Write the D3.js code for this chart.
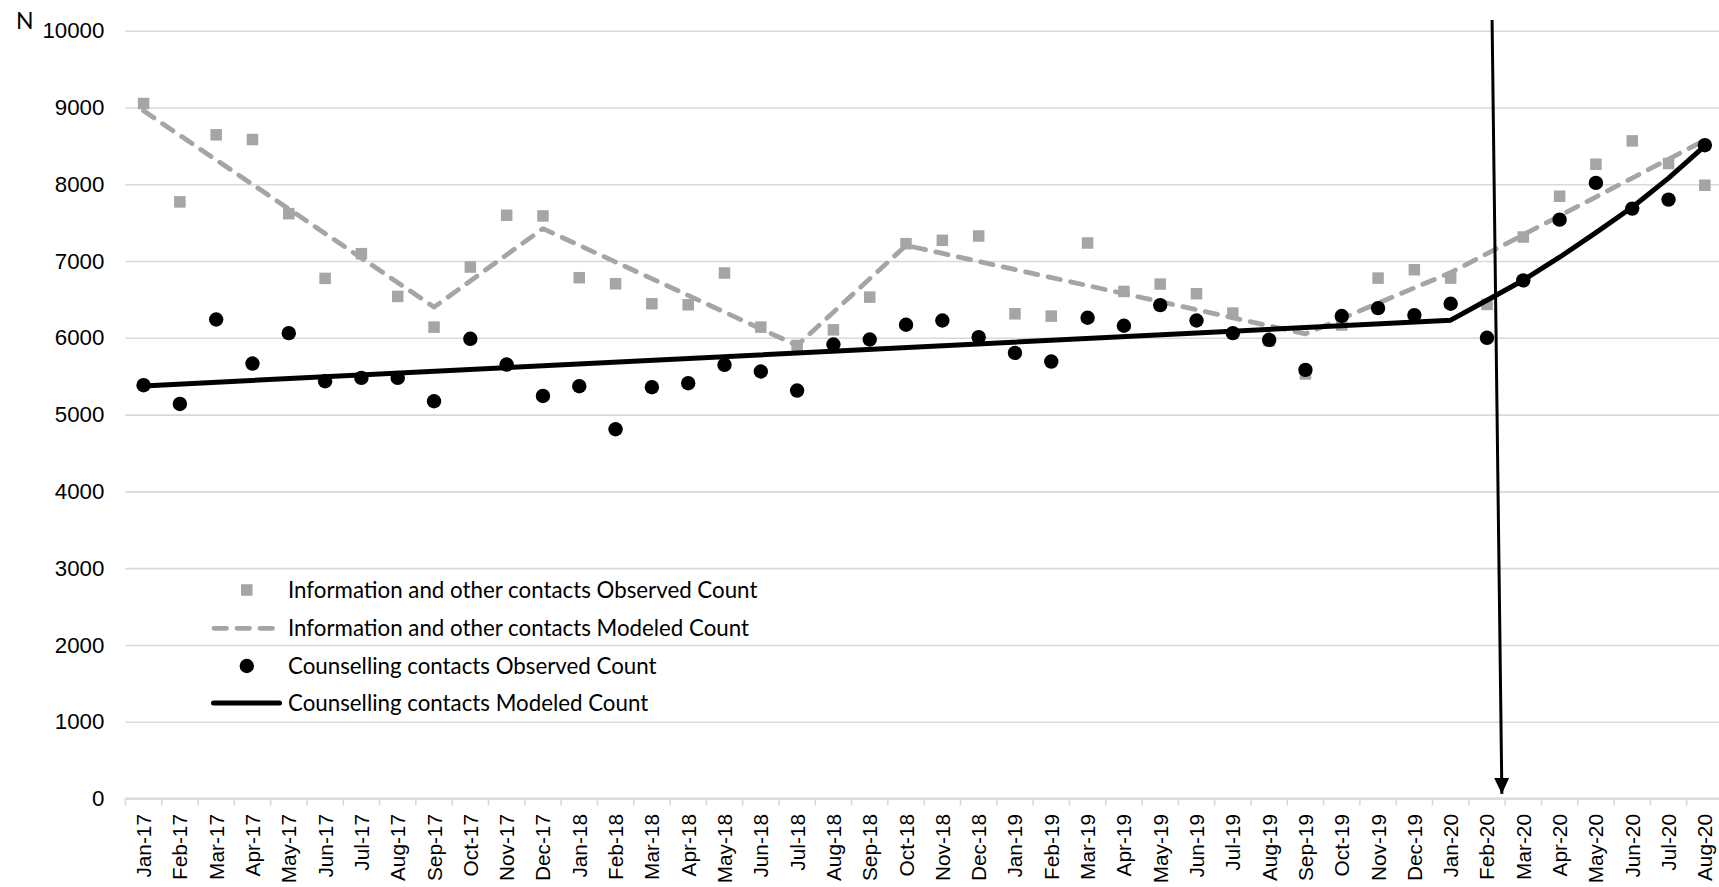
<!DOCTYPE html>
<html>
<head>
<meta charset="utf-8">
<script src="https://cdn.jsdelivr.net/npm/d3@7"></script>
<style>
  html, body { margin: 0; padding: 0; background: #fff; }
  svg { display: block; font-family: Lato, "Open Sans", sans-serif; }
</style>
</head>
<body>
<svg id="chart" width="1719" height="887"></svg>
<script>
// Monthly categories, Jan 2017 – Aug 2020
const months = [
  "Jan-17","Feb-17","Mar-17","Apr-17","May-17","Jun-17","Jul-17","Aug-17","Sep-17","Oct-17","Nov-17","Dec-17",
  "Jan-18","Feb-18","Mar-18","Apr-18","May-18","Jun-18","Jul-18","Aug-18","Sep-18","Oct-18","Nov-18","Dec-18",
  "Jan-19","Feb-19","Mar-19","Apr-19","May-19","Jun-19","Jul-19","Aug-19","Sep-19","Oct-19","Nov-19","Dec-19",
  "Jan-20","Feb-20","Mar-20","Apr-20","May-20","Jun-20","Jul-20","Aug-20"
];

// Information and other contacts – observed monthly count
const infoObserved = [
  9052, 7770, 8644, 8583, 7617, 6774, 7096, 6539, 6139, 6922, 7596, 7587,
  6783, 6704, 6444, 6430, 6844, 6139, 5900, 6104, 6530, 7226, 7270, 7326,
  6313, 6283, 7235, 6604, 6700, 6574, 6322, 5960, 5530, 6167, 6778, 6887,
  6778, 6435, 7313, 7844, 8261, 8565, 8270, 7987
];

// Counselling contacts – observed monthly count
const counselObserved = [
  5383, 5139, 6239, 5665, 6061, 5435, 5478, 5478, 5174, 5987, 5652, 5243,
  5370, 4809, 5357, 5409, 5648, 5561, 5313, 5913, 5978, 6170, 6226, 6009,
  5804, 5691, 6261, 6157, 6426, 6226, 6061, 5974, 5583, 6284, 6387, 6296,
  6444, 6000, 6748, 7539, 8018, 7683, 7800, 8509
];

// Segmented model for information contacts: values at the segment breakpoints
const infoModeledMonths = ["Jan-17","Sep-17","Dec-17","Jul-18","Oct-18","Sep-19","Jan-20","Aug-20"];
const infoModeled       = [8957, 6400, 7422, 5900, 7204, 6052, 6850, 8574];

// Interrupted model for counselling contacts: linear trend, then growth after Jan-20
const counselModeledMonths = ["Jan-17","Jan-20","Feb-20","Mar-20","Apr-20","May-20","Jun-20","Jul-20","Aug-20"];
const counselModeled       = [5374, 6230, 6490, 6750, 7050, 7370, 7700, 8080, 8500];

// Y axis ticks
const yTicks = [0,1000,2000,3000,4000,5000,6000,7000,8000,9000,10000];

// Legend entries
const legendLabels = [
  "Information and other contacts Observed Count",
  "Information and other contacts Modeled Count",
  "Counselling contacts Observed Count",
  "Counselling contacts Modeled Count"
];

// Intervention marker (start of the pandemic period)
const markerMonth = "Feb-20";

// ---------------------------------------------------------------
const svg = d3.select("#chart");
const GRAY = "#a5a5a5", GRID = "#d9d9d9";
const FONT = 22.3;
const XFONT = 20.8;

const x = d3.scaleBand().domain(months).range([125.4, 1723]).padding(0);
const cx = m => x(m) + x.bandwidth() / 2;
const y = d3.scaleLinear().domain([0, 10000]).range([798.5, 30.7]);

const plotLeft = x.range()[0], plotRight = x.range()[1];

// Horizontal gridlines + y tick labels
const yAxis = d3.axisLeft(y)
  .tickValues(yTicks)
  .tickSize(-(plotRight - plotLeft))
  .tickPadding(21)
  .tickFormat(d3.format("d"));
const gy = svg.append("g")
  .attr("transform", `translate(${plotLeft},0)`)
  .call(yAxis);
gy.select(".domain").remove();
gy.selectAll(".tick line").attr("stroke", GRID).attr("stroke-width", 1.6);
gy.selectAll(".tick text")
  .attr("fill", "#000")
  .style("font-size", FONT + "px");

// X axis baseline, band tick marks and rotated month labels
svg.append("line")
  .attr("x1", plotLeft).attr("x2", plotRight)
  .attr("y1", y(0)).attr("y2", y(0))
  .attr("stroke", GRID).attr("stroke-width", 2);

svg.append("g").selectAll("line")
  .data(months.map(m => x(m)).concat([plotRight]))
  .join("line")
  .attr("x1", d => d).attr("x2", d => d)
  .attr("y1", y(0)).attr("y2", y(0) + 7)
  .attr("stroke", GRID).attr("stroke-width", 1.6);

const xAxis = d3.axisBottom(x).tickSize(0).tickPadding(0);
const gx = svg.append("g")
  .attr("transform", `translate(0,${y(0)})`)
  .call(xAxis);
gx.select(".domain").remove();
gx.selectAll(".tick text")
  .attr("transform", "rotate(-90)")
  .attr("x", -15.5)
  .attr("y", 0)
  .attr("dy", "0.36em")
  .attr("text-anchor", "end")
  .attr("fill", "#000")
  .style("font-size", XFONT + "px");

// Axis title
svg.append("text")
  .attr("x", 16).attr("y", 28.5)
  .style("font-size", "23px")
  .attr("fill", "#000")
  .text("N");

// Series: information observed (squares)
const SQ = 11.5;
svg.append("g").selectAll("rect")
  .data(months.map((m, i) => ({ m, v: infoObserved[i] })))
  .join("rect")
  .attr("x", d => cx(d.m) - SQ / 2)
  .attr("y", d => y(d.v) - SQ / 2)
  .attr("width", SQ).attr("height", SQ)
  .attr("fill", GRAY);

// Series: information modeled (dashed)
const line = d3.line().x(d => cx(d.m)).y(d => y(d.v));
svg.append("path")
  .datum(infoModeledMonths.map((m, i) => ({ m, v: infoModeled[i] })))
  .attr("d", line)
  .attr("fill", "none")
  .attr("stroke", GRAY)
  .attr("stroke-width", 4.8)
  .attr("stroke-dasharray", "12.5,10.5")
  .attr("stroke-linecap", "round")
  .attr("stroke-linejoin", "round");

// Series: counselling observed (circles)
svg.append("g").selectAll("circle")
  .data(months.map((m, i) => ({ m, v: counselObserved[i] })))
  .join("circle")
  .attr("cx", d => cx(d.m))
  .attr("cy", d => y(d.v))
  .attr("r", 7.2)
  .attr("fill", "#000");

// Series: counselling modeled (solid)
svg.append("path")
  .datum(counselModeledMonths.map((m, i) => ({ m, v: counselModeled[i] })))
  .attr("d", line)
  .attr("fill", "none")
  .attr("stroke", "#000")
  .attr("stroke-width", 5)
  .attr("stroke-linejoin", "round");

// Legend
const legend = svg.append("g");
const rowY = [590, 628.3, 666, 703];
const mx = 246.8;
legend.append("rect")
  .attr("x", mx - SQ / 2).attr("y", rowY[0] - SQ / 2)
  .attr("width", SQ).attr("height", SQ).attr("fill", GRAY);
legend.append("line")
  .attr("x1", 214).attr("x2", 273).attr("y1", rowY[1]).attr("y2", rowY[1])
  .attr("stroke", GRAY).attr("stroke-width", 4.8)
  .attr("stroke-dasharray", "12.5,10.5").attr("stroke-linecap", "round");
legend.append("circle")
  .attr("cx", mx).attr("cy", rowY[2]).attr("r", 7.2).attr("fill", "#000");
legend.append("line")
  .attr("x1", 213.5).attr("x2", 279.5).attr("y1", rowY[3]).attr("y2", rowY[3])
  .attr("stroke", "#000").attr("stroke-width", 5).attr("stroke-linecap", "round");
legend.selectAll("text")
  .data(legendLabels)
  .join("text")
  .attr("x", 288)
  .attr("y", (d, i) => rowY[i])
  .attr("dy", "0.36em")
  .attr("fill", "#000")
  .style("font-size", FONT + "px")
  .text(d => d);

// Intervention arrow
const defs = svg.append("defs");
defs.append("marker")
  .attr("id", "arrowhead")
  .attr("markerUnits", "userSpaceOnUse")
  .attr("viewBox", "0 -8 16 16")
  .attr("markerWidth", 16).attr("markerHeight", 16)
  .attr("refX", 16).attr("refY", 0)
  .attr("orient", "auto")
  .append("path")
  .attr("d", "M0,-7.5L16,0L0,7.5Z")
  .attr("fill", "#000");

svg.append("line")
  .attr("x1", x(markerMonth) + x.bandwidth() * 0.64)
  .attr("y1", y(10140))
  .attr("x2", x(markerMonth) + x.bandwidth() * 0.91)
  .attr("y2", y(60))
  .attr("stroke", "#000")
  .attr("stroke-width", 3)
  .attr("marker-end", "url(#arrowhead)");
</script>
</body>
</html>
